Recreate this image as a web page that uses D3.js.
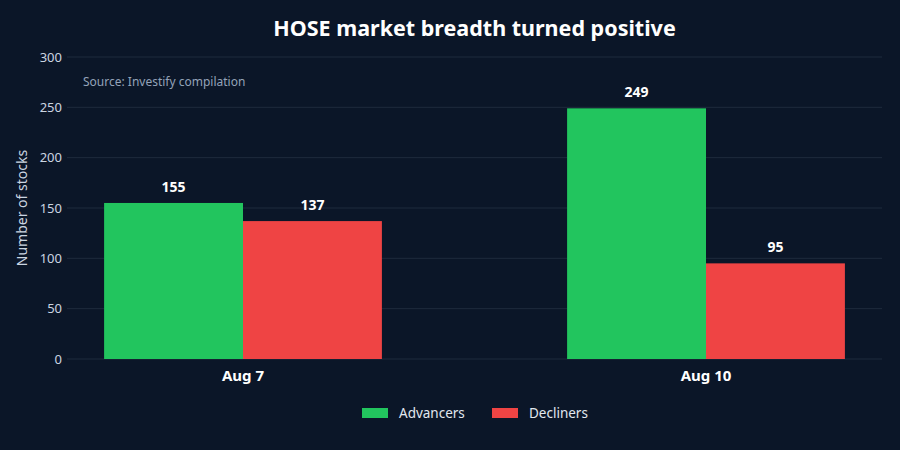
<!DOCTYPE html>
<html>
<head>
<meta charset="utf-8">
<script src="https://cdn.jsdelivr.net/npm/d3@7"></script>
<style>
  body { margin: 0; background: #0b1628; }
  svg { display: block; font-family: "Noto Sans", "Open Sans", sans-serif; }
</style>
</head>
<body>
<svg id="chart" width="900" height="450"></svg>
<script>
// data
var dates = ["Aug 7", "Aug 10"];
var seriesNames = ["Advancers", "Decliners"];
var advancers = [155, 249];
var decliners = [137, 95];
var yTicks = [0, 50, 100, 150, 200, 250, 300];
var colors = ["#22c55e", "#ef4444"];

var W = 900, H = 450;
var plotLeft = 67, plotRight = 882, plotTop = 57, plotBottom = 359;

var svg = d3.select("#chart");
svg.append("rect").attr("width", W).attr("height", H).attr("fill", "#0b1628");

var y = d3.scaleLinear().domain([0, 300]).range([plotBottom, plotTop]);
// two categories laid out like a [-0.5, 1.5] axis
var x = d3.scaleBand().domain(dates).range([11.5, 937.5]).paddingInner(0.4).paddingOuter(0.2);
var xs = d3.scaleBand().domain(seriesNames).range([0, x.bandwidth()]);

// grid
svg.append("g").selectAll("line").data(yTicks).join("line")
  .attr("x1", plotLeft).attr("x2", plotRight)
  .attr("y1", function(d){ return y(d); }).attr("y2", function(d){ return y(d); })
  .attr("stroke", "#1f2b3d").attr("stroke-width", 1);

// y axis
var yAxis = svg.append("g").attr("transform", "translate(" + plotLeft + ",0)")
  .call(d3.axisLeft(y).tickValues(yTicks).tickSize(0).tickPadding(5));
yAxis.select(".domain").remove();
yAxis.selectAll("text").attr("fill", "#cbd5e1").attr("font-size", 13)
  .attr("font-family", "Noto Sans, Open Sans, sans-serif");

svg.append("text")
  .attr("transform", "translate(27," + ((plotTop + plotBottom) / 2) + ") rotate(-90)")
  .attr("text-anchor", "middle").attr("fill", "#cbd5e1").attr("font-size", 14)
  .text("Number of stocks");

// bars
var rows = dates.map(function(d, i){
  return { date: d, values: [
    { name: seriesNames[0], v: advancers[i], c: colors[0] },
    { name: seriesNames[1], v: decliners[i], c: colors[1] }
  ]};
});

var groups = svg.append("g").selectAll("g").data(rows).join("g")
  .attr("transform", function(d){ return "translate(" + x(d.date) + ",0)"; });

groups.selectAll("rect").data(function(d){ return d.values; }).join("rect")
  .attr("x", function(d){ return xs(d.name); })
  .attr("width", xs.bandwidth())
  .attr("y", function(d){ return y(d.v); })
  .attr("height", function(d){ return y(0) - y(d.v); })
  .attr("fill", function(d){ return d.c; });

groups.selectAll("text").data(function(d){ return d.values; }).join("text")
  .attr("x", function(d){ return xs(d.name) + xs.bandwidth() / 2; })
  .attr("y", function(d){ return y(d.v) - 11; })
  .attr("text-anchor", "middle").attr("fill", "#ffffff")
  .attr("font-size", 14).attr("font-weight", "bold")
  .text(function(d){ return d.v; });

// x axis labels
var xAxis = svg.append("g").attr("transform", "translate(0," + plotBottom + ")")
  .call(d3.axisBottom(x).tickSize(0).tickPadding(11));
xAxis.select(".domain").remove();
xAxis.selectAll("text").attr("fill", "#ffffff").attr("font-size", 15).attr("font-weight", "bold")
  .attr("font-family", "Noto Sans, Open Sans, sans-serif");

// title + source
svg.append("text").attr("x", (plotLeft + plotRight) / 2).attr("y", 36)
  .attr("text-anchor", "middle").attr("fill", "#ffffff")
  .attr("font-size", 21.5).attr("font-weight", "bold")
  .text("HOSE market breadth turned positive");

svg.append("text").attr("x", 83).attr("y", 86)
  .attr("fill", "#94a3b8").attr("font-size", 12)
  .text("Source: Investify compilation");

// legend
var legendX = [362, 492];
var legend = svg.append("g").selectAll("g").data(seriesNames).join("g")
  .attr("transform", function(d, i){ return "translate(" + legendX[i] + ",408)"; });
legend.append("rect").attr("width", 26).attr("height", 10)
  .attr("fill", function(d, i){ return colors[i]; });
legend.append("text").attr("x", 37).attr("y", 10)
  .attr("fill", "#e2e8f0").attr("font-size", 13.5)
  .text(function(d){ return d; });
</script>
</body>
</html>
